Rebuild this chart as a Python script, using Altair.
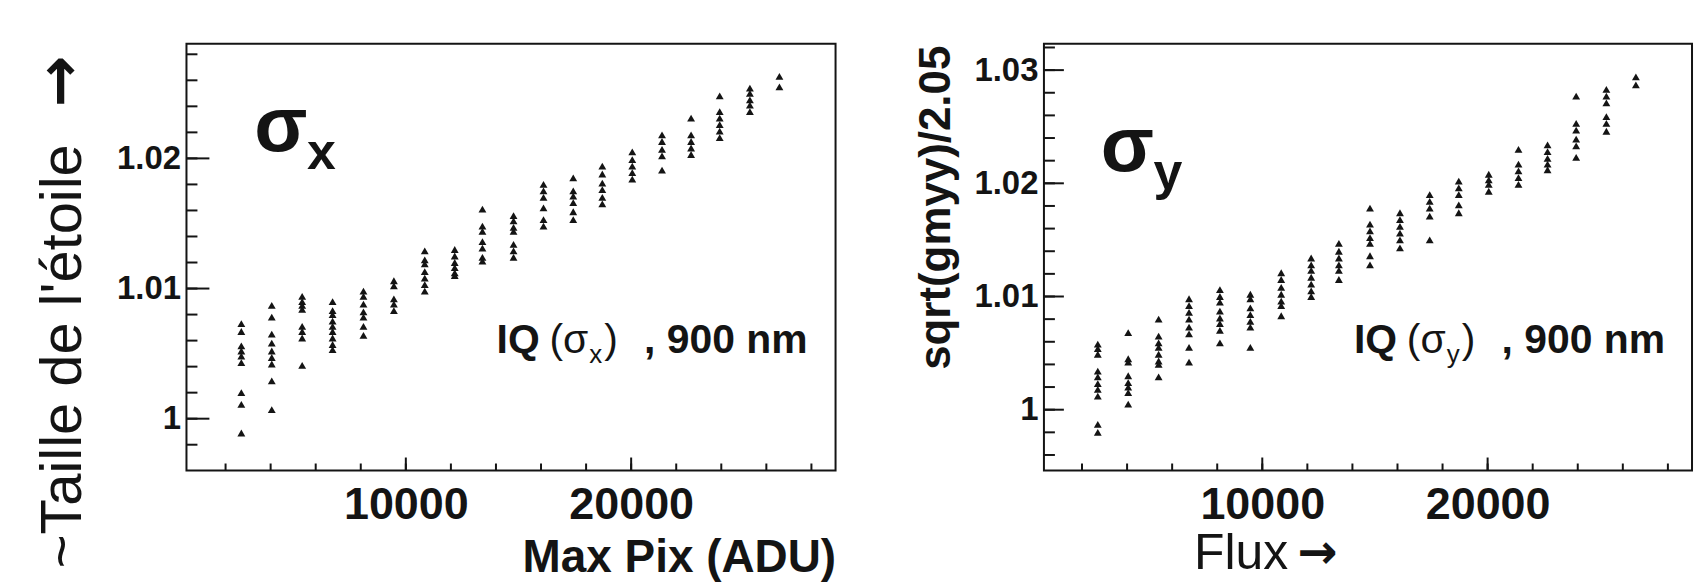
import altair as alt
import pandas as pd

# ---------------- data ----------------
X_CENTERS = [2700, 4050, 5400, 6750, 8120, 9470, 10840, 12170, 13400, 14780,
             16110, 17430, 18720, 20050, 21370, 22660, 23930, 25270, 26580]

SIGMA_X = [
    [1.0073, 1.0067, 1.0056, 1.0052, 1.0048, 1.0043, 1.0020, 1.0011, 0.9989],
    [1.0087, 1.0078, 1.0065, 1.0058, 1.0052, 1.0047, 1.0042, 1.0029, 1.0007],
    [1.0094, 1.0090, 1.0087, 1.0084, 1.0071, 1.0067, 1.0062, 1.0041],
    [1.0090, 1.0083, 1.0080, 1.0075, 1.0071, 1.0067, 1.0062, 1.0057, 1.0053],
    [1.0098, 1.0094, 1.0088, 1.0082, 1.0078, 1.0071, 1.0064],
    [1.0106, 1.0102, 1.0092, 1.0088, 1.0083],
    [1.0129, 1.0122, 1.0119, 1.0113, 1.0108, 1.0103, 1.0098],
    [1.0130, 1.0125, 1.0120, 1.0116, 1.0112, 1.0110],
    [1.0161, 1.0148, 1.0144, 1.0136, 1.0131, 1.0124, 1.0121],
    [1.0156, 1.0152, 1.0147, 1.0144, 1.0134, 1.0129, 1.0124],
    [1.0180, 1.0175, 1.0170, 1.0162, 1.0153, 1.0148],
    [1.0185, 1.0175, 1.0171, 1.0166, 1.0159, 1.0153],
    [1.0194, 1.0188, 1.0181, 1.0176, 1.0170, 1.0165],
    [1.0205, 1.0199, 1.0194, 1.0189, 1.0184],
    [1.0218, 1.0213, 1.0207, 1.0202, 1.0191],
    [1.0231, 1.0218, 1.0213, 1.0208, 1.0203],
    [1.0248, 1.0236, 1.0231, 1.0226, 1.0221, 1.0216],
    [1.0254, 1.0250, 1.0245, 1.0241, 1.0236],
    [1.0263, 1.0255],
]

SIGMA_Y = [
    [1.0058, 1.0054, 1.0049, 1.0034, 1.0029, 1.0023, 1.0018, 1.0012, 0.9987, 0.9980],
    [1.0068, 1.0045, 1.0042, 1.0030, 1.0024, 1.0020, 1.0015, 1.0005],
    [1.0080, 1.0065, 1.0059, 1.0055, 1.0049, 1.0043, 1.0040, 1.0029],
    [1.0098, 1.0092, 1.0086, 1.0080, 1.0073, 1.0067, 1.0055, 1.0042],
    [1.0106, 1.0100, 1.0095, 1.0087, 1.0081, 1.0076, 1.0070, 1.0059],
    [1.0102, 1.0098, 1.0090, 1.0084, 1.0078, 1.0073, 1.0055],
    [1.0121, 1.0115, 1.0108, 1.0102, 1.0096, 1.0092, 1.0083],
    [1.0134, 1.0128, 1.0123, 1.0117, 1.0111, 1.0105, 1.0100],
    [1.0147, 1.0140, 1.0134, 1.0128, 1.0123, 1.0115],
    [1.0178, 1.0164, 1.0158, 1.0152, 1.0147, 1.0136, 1.0128],
    [1.0174, 1.0168, 1.0162, 1.0156, 1.0150, 1.0143],
    [1.0190, 1.0184, 1.0178, 1.0171, 1.0150],
    [1.0202, 1.0196, 1.0190, 1.0181, 1.0174],
    [1.0208, 1.0203, 1.0199, 1.0193],
    [1.0230, 1.0217, 1.0211, 1.0205, 1.0199],
    [1.0234, 1.0228, 1.0222, 1.0217, 1.0212],
    [1.0277, 1.0253, 1.0247, 1.0239, 1.0233, 1.0223],
    [1.0283, 1.0277, 1.0271, 1.0259, 1.0253, 1.0246],
    [1.0294, 1.0287],
]

X_MAJOR = [10000, 20000]
X_MINOR = [2000, 4000, 6000, 8000, 10000, 12000, 14000, 16000, 18000,
           20000, 22000, 24000, 26000, 28000]

YL_MAJOR = [1.0, 1.01, 1.02]
YL_MINOR = [0.998, 1.0, 1.002, 1.004, 1.006, 1.008, 1.01, 1.012, 1.014,
            1.016, 1.018, 1.02, 1.022, 1.024, 1.026, 1.028]
YR_MAJOR = [1.0, 1.01, 1.02, 1.03]
YR_MINOR = [0.996, 0.998, 1.0, 1.002, 1.004, 1.006, 1.008, 1.01, 1.012,
            1.014, 1.016, 1.018, 1.02, 1.022, 1.024, 1.026, 1.028, 1.03, 1.032]

FONT = "Liberation Sans"
ARROW_FONT = "DejaVu Sans"
INK = "#141414"


def points_frame(values):
    xs, ys = [], []
    for xc, col in zip(X_CENTERS, values):
        for v in col:
            xs.append(xc)
            ys.append(v)
    return pd.DataFrame({"x": xs, "y": ys})


def label(text, x, y, size, weight="normal", align="left", font=FONT,
          angle=0, baseline="alphabetic"):
    return alt.Chart(pd.DataFrame({"t": [text]})).mark_text(
        font=font, fontSize=size, fontWeight=weight, align=align,
        baseline=baseline, color=INK, angle=angle,
    ).encode(text="t:N", x=alt.value(x), y=alt.value(y))


def panel(values, xdom, ydom, w, h, ymajor, yminor, ymaj_len, sub,
          ytitle, ytitle_kw, xtitle, xtitle_kw, extra):
    xs = alt.Scale(domain=xdom, nice=False, zero=False)
    ys = alt.Scale(domain=ydom, nice=False, zero=False)

    x_axis = alt.Axis(
        values=X_MAJOR, format="d", ticks=False, domain=False, grid=False,
        labelFont=FONT, labelFontSize=45, labelFontWeight="bold",
        labelColor=INK, labelPadding=12, title=xtitle,
        titleFont=FONT, titleColor=INK, **xtitle_kw)
    y_axis = alt.Axis(
        values=ymajor, format="~g", ticks=False, domain=False, grid=False,
        labelFont=FONT, labelFontSize=33, labelFontWeight="bold",
        labelColor=INK, labelPadding=6, title=ytitle,
        titleFont=FONT, titleColor=INK, titleAngle=270,
        titleAlign="center", titleBaseline="alphabetic", **ytitle_kw)
    X = alt.X("x:Q", scale=xs, axis=x_axis)
    Y = alt.Y("y:Q", scale=ys, axis=y_axis)

    pts = alt.Chart(points_frame(values)).mark_point(
        filled=True, shape="triangle-up", size=62, color=INK, opacity=1,
    ).encode(x=X, y=Y)

    def yticks(vals, length):
        return alt.Chart(pd.DataFrame({"y": vals})).mark_rule(
            color=INK, strokeWidth=2).encode(
            y=Y, x=alt.value(0), x2=alt.value(length))

    def xticks(vals, length):
        return alt.Chart(pd.DataFrame({"x": vals})).mark_rule(
            color=INK, strokeWidth=2).encode(
            x=X, y=alt.value(h), y2=alt.value(h - length))

    layers = [
        pts,
        yticks(yminor, 11), yticks(ymajor, ymaj_len),
        xticks(X_MINOR, 7), xticks(X_MAJOR, 13),
        label("σ", sub["sx"], sub["sy"], 78, "bold"),
        label(sub["s"], sub["sx"] + 53, sub["sy"] + 18, 52, "bold"),
        label("IQ", 311, 310, 41, "bold"),
        label("(σ", 364, 310, 41),
        label(sub["s"], 404, 320, 26),
        label(")", 419, 310, 41),
        label(", 900 nm", 459, 310, 41, "bold"),
    ] + extra
    return alt.layer(*layers).properties(width=w, height=h)


left = panel(
    SIGMA_X, [265, 29071], [0.99602, 1.02881], 651, 428,
    YL_MAJOR, YL_MINOR, 23, {"s": "x", "sx": 68, "sy": 108},
    "~Taille de l'étoile",
    dict(titleFontSize=58, titleFontWeight="normal", titleX=-106, titleY=313),
    "Max Pix (ADU)",
    dict(titleFontSize=46, titleFontWeight="bold", titleX=651, titleY=101,
         titleAlign="right", titleBaseline="alphabetic"),
    [label("→", -126, 12, 62, "bold", align="right", font=ARROW_FONT,
           angle=270, baseline="middle")],
)

right = panel(
    SIGMA_Y, [310, 29071], [0.99463, 1.03233], 650, 428,
    YR_MAJOR, YR_MINOR, 20, {"s": "y", "sx": 57, "sy": 128},
    "sqrt(gmyy)/2.05",
    dict(titleFontSize=44, titleFontWeight="bold", titleX=-95, titleY=164),
    "Flux",
    dict(titleFontSize=50, titleFontWeight="normal", titleX=150, titleY=98,
         titleAlign="left", titleBaseline="alphabetic"),
    [label("→", 254, 526, 48, "bold", font=ARROW_FONT)],
)

chart = alt.hconcat(left, right, spacing=77).properties(
    padding={"left": 21, "top": 34, "right": 5, "bottom": 0},
    background="white",
).configure_view(stroke=INK, strokeWidth=2)

chart.save("out.html", embed_options={"renderer": "svg", "actions": False})
